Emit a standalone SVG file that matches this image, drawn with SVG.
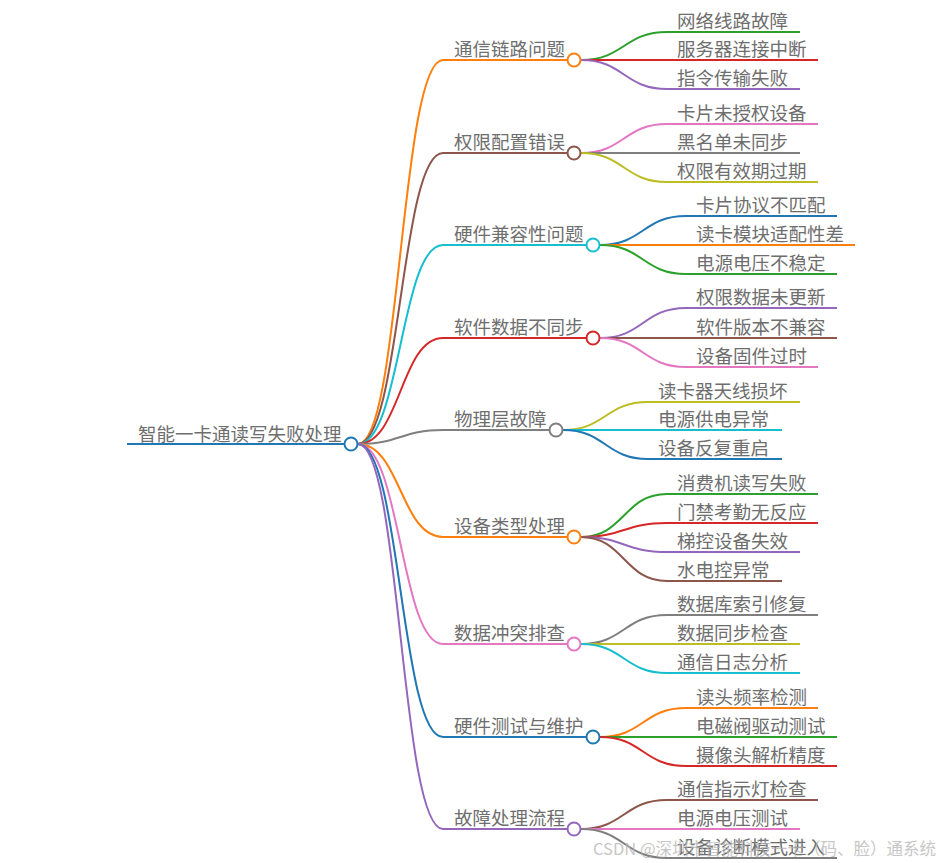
<svg xmlns="http://www.w3.org/2000/svg" width="949" height="863" viewBox="0 0 949 863">
<style>
text{font-family:"Noto Sans CJK SC","Noto Sans",sans-serif;font-size:18.5px;fill:#6e6e6e}
.l{fill:none;stroke-width:2}
.c{fill:#fff;stroke-width:2}
.wm{font-size:16.5px;fill:#b4b4b4;opacity:0.75}
</style>
<rect width="949" height="863" fill="#fff"/>
<g id="connectors">
<path class="l" stroke="#ff7f0e" d="M358,444 C400.5,444 400.5,60 443,60 H567.5"/>
<path class="l" stroke="#8c564b" d="M358,444 C400.5,444 400.5,153 443,153 H567.5"/>
<path class="l" stroke="#17becf" d="M358,444 C400.5,444 400.5,245 443,245 H586.5"/>
<path class="l" stroke="#d62728" d="M358,444 C400.5,444 400.5,338 443,338 H586.5"/>
<path class="l" stroke="#7f7f7f" d="M358,444 C400.5,444 400.5,430 443,430 H549.5"/>
<path class="l" stroke="#ff7f0e" d="M358,444 C400.5,444 400.5,537 443,537 H567.5"/>
<path class="l" stroke="#e377c2" d="M358,444 C400.5,444 400.5,644 443,644 H567.5"/>
<path class="l" stroke="#1f77b4" d="M358,444 C400.5,444 400.5,737 443,737 H586.5"/>
<path class="l" stroke="#9467bd" d="M358,444 C400.5,444 400.5,829 443,829 H567.5"/>
<!-- B1 -->
<path class="l" stroke="#2ca02c" d="M581,60 C624,60 624,32 667,32 H800"/>
<path class="l" stroke="#d62728" d="M581,60 C624,60 624,60 667,60 H818"/>
<path class="l" stroke="#9467bd" d="M581,60 C624,60 624,89 667,89 H800"/>
<!-- B2 -->
<path class="l" stroke="#e377c2" d="M581,153 C624,153 624,124 667,124 H818"/>
<path class="l" stroke="#7f7f7f" d="M581,153 C624,153 624,153 667,153 H800"/>
<path class="l" stroke="#bcbd22" d="M581,153 C624,153 624,182 667,182 H818"/>
<!-- B3 -->
<path class="l" stroke="#1f77b4" d="M600,245 C643,245 643,216 686,216 H837"/>
<path class="l" stroke="#ff7f0e" d="M600,245 C643,245 643,245 686,245 H855"/>
<path class="l" stroke="#2ca02c" d="M600,245 C643,245 643,274 686,274 H837"/>
<!-- B4 -->
<path class="l" stroke="#9467bd" d="M600,338 C643,338 643,308 686,308 H837"/>
<path class="l" stroke="#8c564b" d="M600,338 C643,338 643,338 686,338 H837"/>
<path class="l" stroke="#e377c2" d="M600,338 C643,338 643,367 686,367 H818"/>
<!-- B5 -->
<path class="l" stroke="#bcbd22" d="M563,430 C605.5,430 605.5,402 648,402 H800"/>
<path class="l" stroke="#17becf" d="M563,430 C605.5,430 605.5,430 648,430 H782"/>
<path class="l" stroke="#1f77b4" d="M563,430 C605.5,430 605.5,459 648,459 H782"/>
<!-- B6 -->
<path class="l" stroke="#2ca02c" d="M581,537 C624,537 624,494 667,494 H818"/>
<path class="l" stroke="#d62728" d="M581,537 C624,537 624,523 667,523 H818"/>
<path class="l" stroke="#9467bd" d="M581,537 C624,537 624,552 667,552 H800"/>
<path class="l" stroke="#8c564b" d="M581,537 C624,537 624,581 667,581 H782"/>
<!-- B7 -->
<path class="l" stroke="#7f7f7f" d="M581,644 C624,644 624,615 667,615 H818"/>
<path class="l" stroke="#bcbd22" d="M581,644 C624,644 624,644 667,644 H800"/>
<path class="l" stroke="#17becf" d="M581,644 C624,644 624,673 667,673 H800"/>
<!-- B8 -->
<path class="l" stroke="#ff7f0e" d="M600,737 C643,737 643,708 686,708 H818"/>
<path class="l" stroke="#2ca02c" d="M600,737 C643,737 643,737 686,737 H837"/>
<path class="l" stroke="#d62728" d="M600,737 C643,737 643,766 686,766 H837"/>
<!-- B9 -->
<path class="l" stroke="#8c564b" d="M581,829 C624,829 624,800 667,800 H818"/>
<path class="l" stroke="#e377c2" d="M581,829 C624,829 624,829 667,829 H800"/>
<path class="l" stroke="#7f7f7f" d="M581,829 C624,829 624,858 667,858 H837"/>
<!-- root line -->
<path class="l" stroke="#1f77b4" stroke-width="2.5" d="M127,444 H344.5"/>
</g>
<g id="root"><text x="138" y="441">智能一卡通读写失败处理</text><circle class="c" cx="351" cy="444" r="6.5" stroke="#1f77b4"/></g>
<g id="n1"><text x="454" y="55.5">通信链路问题</text><circle class="c" cx="574" cy="60" r="6.5" stroke="#ff7f0e"/></g>
<g id="n1a"><text x="677" y="27.5">网络线路故障</text></g>
<g id="n1b"><text x="677" y="55.5">服务器连接中断</text></g>
<g id="n1c"><text x="677" y="84.5">指令传输失败</text></g>
<g id="n2"><text x="454" y="148.5">权限配置错误</text><circle class="c" cx="574" cy="153" r="6.5" stroke="#8c564b"/></g>
<g id="n2a"><text x="677" y="119.5">卡片未授权设备</text></g>
<g id="n2b"><text x="677" y="148.5">黑名单未同步</text></g>
<g id="n2c"><text x="677" y="177.5">权限有效期过期</text></g>
<g id="n3"><text x="454" y="240.5">硬件兼容性问题</text><circle class="c" cx="593" cy="245" r="6.5" stroke="#17becf"/></g>
<g id="n3a"><text x="696" y="211.5">卡片协议不匹配</text></g>
<g id="n3b"><text x="696" y="240.5">读卡模块适配性差</text></g>
<g id="n3c"><text x="696" y="269.5">电源电压不稳定</text></g>
<g id="n4"><text x="454" y="333.5">软件数据不同步</text><circle class="c" cx="593" cy="338" r="6.5" stroke="#d62728"/></g>
<g id="n4a"><text x="696" y="303.5">权限数据未更新</text></g>
<g id="n4b"><text x="696" y="333.5">软件版本不兼容</text></g>
<g id="n4c"><text x="696" y="362.5">设备固件过时</text></g>
<g id="n5"><text x="454" y="425.5">物理层故障</text><circle class="c" cx="556" cy="430" r="6.5" stroke="#7f7f7f"/></g>
<g id="n5a"><text x="658" y="397.5">读卡器天线损坏</text></g>
<g id="n5b"><text x="658" y="425.5">电源供电异常</text></g>
<g id="n5c"><text x="658" y="454.5">设备反复重启</text></g>
<g id="n6"><text x="454" y="532.5">设备类型处理</text><circle class="c" cx="574" cy="537" r="6.5" stroke="#ff7f0e"/></g>
<g id="n6a"><text x="677" y="489.5">消费机读写失败</text></g>
<g id="n6b"><text x="677" y="518.5">门禁考勤无反应</text></g>
<g id="n6c"><text x="677" y="547.5">梯控设备失效</text></g>
<g id="n6d"><text x="677" y="576.5">水电控异常</text></g>
<g id="n7"><text x="454" y="639.5">数据冲突排查</text><circle class="c" cx="574" cy="644" r="6.5" stroke="#e377c2"/></g>
<g id="n7a"><text x="677" y="610.5">数据库索引修复</text></g>
<g id="n7b"><text x="677" y="639.5">数据同步检查</text></g>
<g id="n7c"><text x="677" y="668.5">通信日志分析</text></g>
<g id="n8"><text x="454" y="732.5">硬件测试与维护</text><circle class="c" cx="593" cy="737" r="6.5" stroke="#1f77b4"/></g>
<g id="n8a"><text x="696" y="703.5">读头频率检测</text></g>
<g id="n8b"><text x="696" y="732.5">电磁阀驱动测试</text></g>
<g id="n8c"><text x="696" y="761.5">摄像头解析精度</text></g>
<g id="n9"><text x="454" y="824.5">故障处理流程</text><circle class="c" cx="574" cy="829" r="6.5" stroke="#9467bd"/></g>
<g id="n9a"><text x="677" y="795.5">通信指示灯检查</text></g>
<g id="n9b"><text x="677" y="824.5">电源电压测试</text></g>
<g id="n9c"><text x="677" y="853.5">设备诊断模式进入</text></g>
<text class="wm" x="593" y="855">CSDN @深圳市智能科技一卡（码、脸）通系统</text>
</svg>
